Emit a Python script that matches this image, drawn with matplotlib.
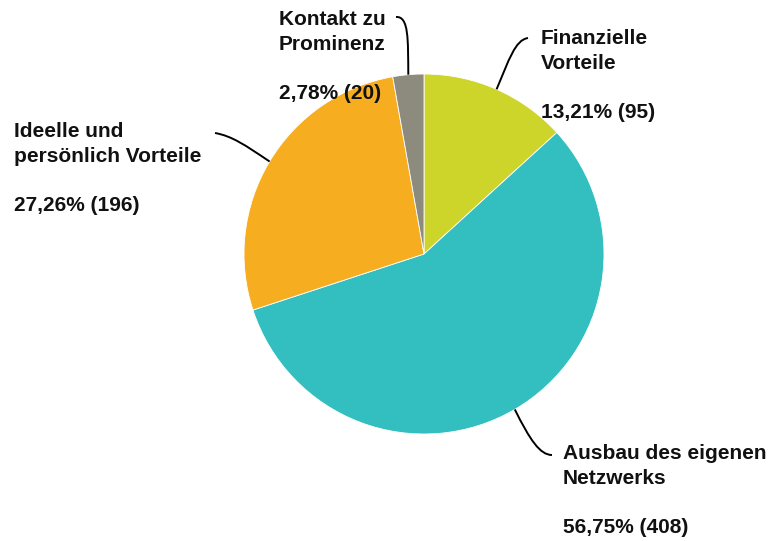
import numpy as np
import matplotlib
matplotlib.use("Agg")
import matplotlib.pyplot as plt
from matplotlib.path import Path
from matplotlib.patches import PathPatch

categories = ["Finanzielle\nVorteile", "Ausbau des eigenen\nNetzwerks",
              "Ideelle und\npersönlich Vorteile", "Kontakt zu\nProminenz"]
percentages = [13.21, 56.75, 27.26, 2.78]
counts = [95, 408, 196, 20]
colors = ["#CED52A", "#33BEBF", "#F6AE20", "#8C8B7D"]

W, H = 770, 541
fig = plt.figure(figsize=(W / 100, H / 100), dpi=100)
ax = fig.add_axes([0, 0, 1, 1])

cx, cy, r = 424, H - 254, 180
ax.pie(percentages, colors=colors, startangle=90, counterclock=False,
       center=(cx, cy), radius=r, frame=True,
       wedgeprops=dict(linewidth=0.6, edgecolor="white"))
ax.set_xlim(0, W)
ax.set_ylim(0, H)
ax.set_aspect("equal")
ax.axis("off")

# label anchor (left edge, top) and leader curve control points in pixels
label_pos = [(541, 29), (563, 444), (14, 122), (279, 10)]
leader_ctrl = [
    [(509, 60), (515, 40), (528, 38)],
    [(530, 440), (540, 455), (552, 455)],
    [(245, 145), (232, 136), (215, 133)],
    [(408, 40), (409, 16), (396, 17)],
]

total = sum(percentages)
cum = 0.0
for cat, pct, n, (lx, ly), ctrl in zip(categories, percentages, counts,
                                        label_pos, leader_ctrl):
    mid = cum + pct / 2
    cum += pct
    ang = np.deg2rad(90 - 360 * mid / total)
    x0, y0 = cx + r * np.cos(ang), cy + r * np.sin(ang)
    pts = [(x0, y0)] + [(x, H - y) for x, y in ctrl]
    path = Path(pts, [Path.MOVETO, Path.CURVE4, Path.CURVE4, Path.CURVE4])
    ax.add_patch(PathPatch(path, fill=False, edgecolor="black", lw=1.4))
    text = f"{cat}\n\n{pct:.2f}".replace(".", ",") + f"% ({n})"
    ax.text(lx, H - ly, text, ha="left", va="top", fontsize=15,
            fontweight="bold", family="Liberation Sans", linespacing=1.38,
            color="#111111")

fig.savefig("out.png", dpi=100)
